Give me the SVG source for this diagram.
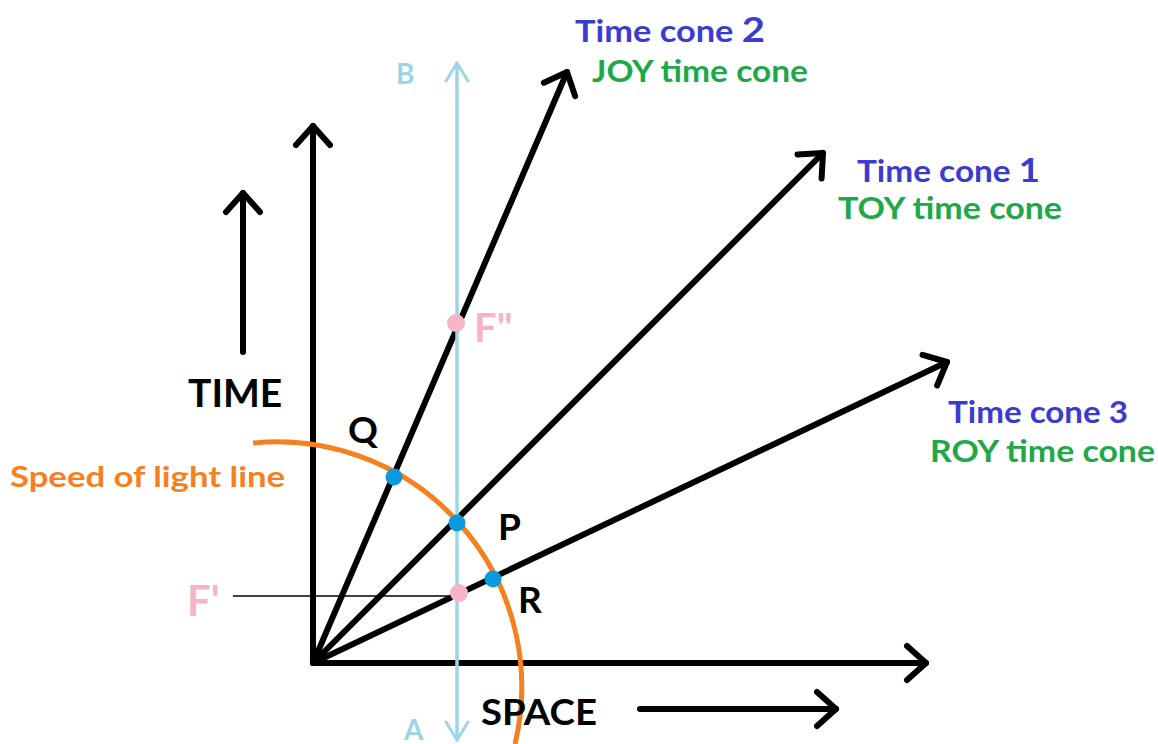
<svg xmlns="http://www.w3.org/2000/svg" width="1158" height="744" viewBox="0 0 1158 744">
<style>
.blk{stroke:#000;stroke-width:6;fill:none;stroke-linecap:round;stroke-linejoin:round}
.lb{stroke:#9dd5e6;stroke-width:3;fill:none;stroke-linecap:round;stroke-linejoin:round}
.t{font-family:Lato,"Liberation Sans",sans-serif;font-weight:700}
.blue{fill:#3b3ccf}
.green{fill:#20a848}
.pink{fill:#f6b4c8}
.dot{fill:#0b9ae0}
.pdot{fill:#f6b4c8}
</style>
<defs>
<marker id="ah" markerUnits="userSpaceOnUse" orient="auto" overflow="visible" markerWidth="1" markerHeight="1" refX="0" refY="0">
<path d="M-19,-17 L0,0 L-19,17" class="blk"/>
</marker>
<marker id="ahb" markerUnits="userSpaceOnUse" orient="auto" overflow="visible" markerWidth="1" markerHeight="1" refX="0" refY="0">
<path d="M-18,-11 L0,0 L-18,11" class="lb"/>
</marker>
</defs>
<rect width="1158" height="744" fill="#fff"/>
<g id="connectors">
<line class="blk" x1="313" y1="663" x2="313" y2="126" marker-end="url(#ah)"/>
<line class="blk" x1="313" y1="663" x2="926" y2="663" marker-end="url(#ah)"/>
<line class="blk" x1="313" y1="663" x2="567" y2="72" marker-end="url(#ah)"/>
<line class="blk" x1="313" y1="663" x2="823" y2="153" marker-end="url(#ah)"/>
<line class="blk" x1="313" y1="663" x2="947" y2="362" marker-end="url(#ah)"/>
<line class="lb" x1="457" y1="740" x2="457" y2="63" marker-end="url(#ahb)"/>
<line class="lb" x1="457" y1="63" x2="457" y2="740" marker-end="url(#ahb)"/>
<path d="M253,443 A245,245 0 0 1 515,744" stroke="#f5801f" stroke-width="5" fill="none"/>
<line x1="233" y1="596" x2="458" y2="596" stroke="#000" stroke-width="1.5"/>
<line class="blk" x1="243" y1="352" x2="243" y2="193" marker-end="url(#ah)"/>
<line class="blk" x1="640" y1="709" x2="836" y2="709" marker-end="url(#ah)"/>
</g>
<g id="node-Q"><circle class="dot" cx="394" cy="477" r="8.5"/><text class="t" x="348" y="443" font-size="37">Q</text></g>
<g id="node-P"><circle class="dot" cx="457" cy="523" r="8.5"/><text class="t" x="498" y="540" font-size="37">P</text></g>
<g id="node-R"><circle class="dot" cx="493" cy="579" r="8.5"/><text class="t" x="518" y="613" font-size="37">R</text></g>
<g id="node-F2"><circle class="pdot" cx="456" cy="323" r="9"/><text class="t pink" x="474" y="342" font-size="40">F"</text></g>
<g id="node-F1"><circle class="pdot" cx="459" cy="593" r="9"/><text class="t pink" x="187" y="616" font-size="42">F'</text></g>
<g id="label-B"><text class="t" fill="#9dd5e6" x="396" y="84" font-size="28">B</text></g>
<g id="label-A"><text class="t" fill="#9dd5e6" x="404" y="740" font-size="28">A</text></g>
<g id="label-time"><text class="t" x="188" y="407" font-size="39">TIME</text></g>
<g id="label-space"><text class="t" x="481" y="725" font-size="37" textLength="116" lengthAdjust="spacingAndGlyphs">SPACE</text></g>
<g id="label-sol"><text class="t" fill="#f5801f" x="10" y="487" font-size="29" textLength="275" lengthAdjust="spacingAndGlyphs">Speed of light line</text></g>
<g id="label-cone2"><text class="t blue" x="575" y="42" font-size="30" textLength="190" lengthAdjust="spacingAndGlyphs">Time cone <tspan font-size="35">2</tspan></text><text class="t green" x="592" y="82" font-size="30" textLength="216" lengthAdjust="spacingAndGlyphs">JOY time cone</text></g>
<g id="label-cone1"><text class="t blue" x="857" y="182" font-size="30" textLength="183" lengthAdjust="spacingAndGlyphs">Time cone <tspan font-size="33">1</tspan></text><text class="t green" x="838" y="219" font-size="30" textLength="224" lengthAdjust="spacingAndGlyphs">TOY  time cone</text></g>
<g id="label-cone3"><text class="t blue" x="948" y="423" font-size="30" textLength="180" lengthAdjust="spacingAndGlyphs">Time cone 3</text><text class="t green" x="930" y="462" font-size="30" textLength="225" lengthAdjust="spacingAndGlyphs">ROY time cone</text></g>
</svg>
